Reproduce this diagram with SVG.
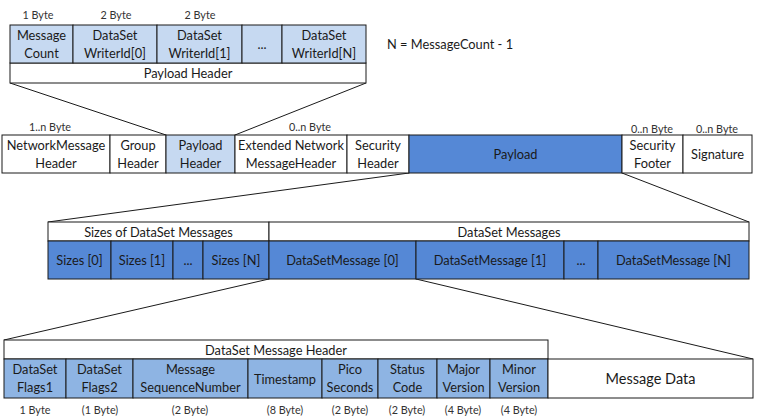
<svg xmlns="http://www.w3.org/2000/svg" width="757" height="419" viewBox="0 0 757 419">
<style>
.b{stroke:#1a1a1a;stroke-width:1;}
.w{fill:#ffffff;}
.l{fill:#c6d9f1;}
.m{fill:#8eb4e3;}
.d{fill:#5588d6;}
text{font-family:Lato,"Liberation Sans",sans-serif;font-size:12.8px;fill:#1a1a1a;text-anchor:middle;dominant-baseline:central;}
.s{font-size:10.8px;fill:#333;}
.big{font-size:14.5px;}
.c{fill:none;stroke:#1a1a1a;stroke-width:1;}
</style>
<rect width="757" height="419" fill="#ffffff"/>
<g id="connectors">
<line class="c" x1="10" y1="83" x2="166" y2="135"/>
<line class="c" x1="366" y1="83" x2="235" y2="135"/>
<line class="c" x1="409" y1="173" x2="48" y2="222"/>
<line class="c" x1="622" y1="173" x2="749" y2="222"/>
<line class="c" x1="269" y1="279" x2="4" y2="340"/>
<line class="c" x1="416" y1="279" x2="753" y2="359"/>
</g>
<g id="top-labels">
<text class="s" x="38" y="14">1 Byte</text>
<text class="s" x="116" y="14">2 Byte</text>
<text class="s" x="200" y="14">2 Byte</text>
<text x="387" y="44" style="text-anchor:start">N = MessageCount - 1</text>
</g>
<g id="payload-header-detail">
<rect class="b w" x="10" y="63" width="356" height="20"/>
<text x="188" y="73">Payload Header</text>
<rect class="b l" x="10" y="25" width="63" height="38"/>
<text x="41.5" y="35">Message</text><text x="41.5" y="53">Count</text>
<rect class="b l" x="73" y="25" width="84" height="38"/>
<text x="115" y="35">DataSet</text><text x="115" y="53">WriterId[0]</text>
<rect class="b l" x="157" y="25" width="85" height="38"/>
<text x="199.5" y="35">DataSet</text><text x="199.5" y="53">WriterId[1]</text>
<rect class="b l" x="242" y="25" width="40" height="38"/>
<text x="262" y="44">...</text>
<rect class="b l" x="282" y="25" width="84" height="38"/>
<text x="324" y="35">DataSet</text><text x="324" y="53">WriterId[N]</text>
</g>
<g id="network-message">
<text class="s" x="50" y="126">1..n Byte</text>
<text class="s" x="310" y="126">0..n Byte</text>
<text class="s" x="652" y="128">0..n Byte</text>
<text class="s" x="717" y="128">0..n Byte</text>
<rect class="b w" x="2" y="135" width="108" height="38"/>
<text x="56" y="145">NetworkMessage</text><text x="56" y="163">Header</text>
<rect class="b w" x="110" y="135" width="56" height="38"/>
<text x="138" y="145">Group</text><text x="138" y="163">Header</text>
<rect class="b l" x="166" y="135" width="69" height="38"/>
<text x="200.5" y="145">Payload</text><text x="200.5" y="163">Header</text>
<rect class="b w" x="235" y="135" width="112" height="38"/>
<text x="291" y="145">Extended Network</text><text x="291" y="163">MessageHeader</text>
<rect class="b w" x="347" y="135" width="62" height="38"/>
<text x="378" y="145">Security</text><text x="378" y="163">Header</text>
<rect class="b d" x="409" y="135" width="213" height="38"/>
<text x="515.5" y="154">Payload</text>
<rect class="b w" x="622" y="135" width="61" height="38"/>
<text x="652.5" y="145">Security</text><text x="652.5" y="163">Footer</text>
<rect class="b w" x="683" y="135" width="69" height="38"/>
<text x="717.5" y="154">Signature</text>
</g>
<g id="payload-detail">
<rect class="b w" x="48" y="222" width="221" height="19"/>
<text x="158.5" y="231.5">Sizes of DataSet Messages</text>
<rect class="b w" x="269" y="222" width="480" height="19"/>
<text x="509" y="231.5">DataSet Messages</text>
<rect class="b d" x="48" y="241" width="63" height="38"/>
<text x="79.5" y="260">Sizes [0]</text>
<rect class="b d" x="111" y="241" width="62" height="38"/>
<text x="142" y="260">Sizes [1]</text>
<rect class="b d" x="173" y="241" width="30" height="38"/>
<text x="188" y="260">...</text>
<rect class="b d" x="203" y="241" width="66" height="38"/>
<text x="236" y="260">Sizes [N]</text>
<rect class="b d" x="269" y="241" width="147" height="38"/>
<text x="342.5" y="260">DataSetMessage [0]</text>
<rect class="b d" x="416" y="241" width="148" height="38"/>
<text x="490" y="260">DataSetMessage [1]</text>
<rect class="b d" x="564" y="241" width="34" height="38"/>
<text x="581" y="260">...</text>
<rect class="b d" x="598" y="241" width="151" height="38"/>
<text x="673.5" y="260">DataSetMessage [N]</text>
</g>
<g id="dataset-message-detail">
<rect class="b w" x="4" y="340" width="544" height="19"/>
<text x="276" y="349.5">DataSet Message Header</text>
<rect class="b m" x="4" y="359" width="62" height="39"/>
<text x="35" y="369">DataSet</text><text x="35" y="387">Flags1</text>
<rect class="b m" x="66" y="359" width="67" height="39"/>
<text x="99.5" y="369">DataSet</text><text x="99.5" y="387">Flags2</text>
<rect class="b m" x="133" y="359" width="115" height="39"/>
<text x="190.5" y="369">Message</text><text x="190.5" y="387">SequenceNumber</text>
<rect class="b m" x="248" y="359" width="74" height="39"/>
<text x="285" y="378.5">Timestamp</text>
<rect class="b m" x="322" y="359" width="56" height="39"/>
<text x="350" y="369">Pico</text><text x="350" y="387">Seconds</text>
<rect class="b m" x="378" y="359" width="59" height="39"/>
<text x="407.5" y="369">Status</text><text x="407.5" y="387">Code</text>
<rect class="b m" x="437" y="359" width="53" height="39"/>
<text x="463.5" y="369">Major</text><text x="463.5" y="387">Version</text>
<rect class="b m" x="490" y="359" width="58" height="39"/>
<text x="519" y="369">Minor</text><text x="519" y="387">Version</text>
<rect class="b w" x="548" y="359" width="205" height="39"/>
<text class="big" x="650.5" y="378.5">Message Data</text>
<text class="s" x="35" y="409">1 Byte</text>
<text class="s" x="100" y="409">(1 Byte)</text>
<text class="s" x="190" y="409">(2 Byte)</text>
<text class="s" x="285" y="409">(8 Byte)</text>
<text class="s" x="350" y="409">(2 Byte)</text>
<text class="s" x="407" y="409">(2 Byte)</text>
<text class="s" x="463" y="409">(4 Byte)</text>
<text class="s" x="519" y="409">(4 Byte)</text>
</g>
</svg>
